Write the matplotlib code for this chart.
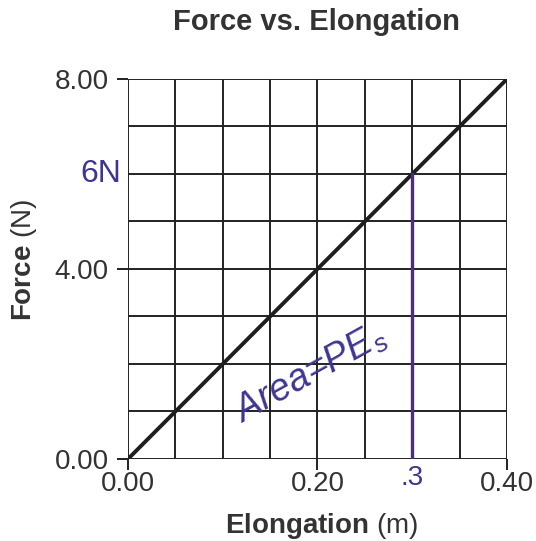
import matplotlib
matplotlib.use("Agg")
import matplotlib.pyplot as plt
import numpy as np

plt.rcParams['font.family'] = ['Liberation Sans', 'DejaVu Sans']
plt.rcParams['mathtext.fontset'] = 'custom'
plt.rcParams['mathtext.rm'] = 'Liberation Sans'
plt.rcParams['mathtext.bf'] = 'Liberation Sans:bold'
plt.rcParams['mathtext.it'] = 'Liberation Sans:italic'

# data
elongation = [0.0, 0.40]
force = [0.0, 8.0]
mark_x = [0.3, 0.3]
mark_y = [6.0, 0.0]
x_ticks = [0.0, 0.2, 0.4]
x_ticklabels = ["0.00", "0.20", "0.40"]
y_ticks = [0.0, 4.0, 8.0]
y_ticklabels = ["0.00", "4.00", "8.00"]
x_grid = [0.05 * i for i in range(9)]
y_grid = [1.0 * i for i in range(9)]

fig = plt.figure(figsize=(5.36, 5.41), dpi=100)
ax = fig.add_axes([0.2388, 0.1516, 0.9459 - 0.2388, 0.854 - 0.1516])
ax.set_xlim(0, 0.4)
ax.set_ylim(0, 8)

gc = '#222222'
for gx in x_grid:
    ax.axvline(gx, color=gc, lw=1.4, zorder=1)
for gy in y_grid:
    ax.axhline(gy, color=gc, lw=1.4, zorder=1)
for s in ax.spines.values():
    s.set_visible(False)

ax.plot(elongation, force, color='#1e1e1e', lw=2.8, zorder=3, solid_capstyle='butt')
ax.plot(mark_x, mark_y, color='#4a2f7a', lw=2.4, zorder=4)

ax.set_xticks(x_ticks)
ax.set_xticklabels(x_ticklabels)
ax.set_yticks(y_ticks)
ax.set_yticklabels(y_ticklabels)
ax.tick_params(axis='both', direction='out', length=8, width=1.4, color=gc,
               labelsize=20, labelcolor='#333333')
ax.tick_params(axis='x', pad=1)
ax.tick_params(axis='y', pad=6)

fig.text(316 / 536, 1 - 30 / 541, "Force vs. Elongation", fontsize=21, fontweight='bold',
         color='#333333', ha='center', va='baseline')
ax.set_xlabel(r"$\mathbf{Elongation}$ (m)", fontsize=20, color='#333333')
ax.xaxis.set_label_coords(0.51, -0.137)
ax.set_ylabel(r"$\mathbf{Force}$ (N)", fontsize=20, color='#333333')
ax.yaxis.set_label_coords(-0.235, 0.524)

ink = '#3d3590'
ax.text(-0.0285, 6.0, "6N", color=ink, fontsize=23, ha='center', va='center',
        clip_on=False)
ax.text(0.192, 1.8, r"Area=PE$_s$", color=ink, fontsize=27, ha='center', va='center',
        rotation=29, style='italic')
ax.text(0.3, -0.4, ".3", color=ink, fontsize=20, ha='center', va='center',
        clip_on=False)

fig.savefig("out.png", dpi=100)
